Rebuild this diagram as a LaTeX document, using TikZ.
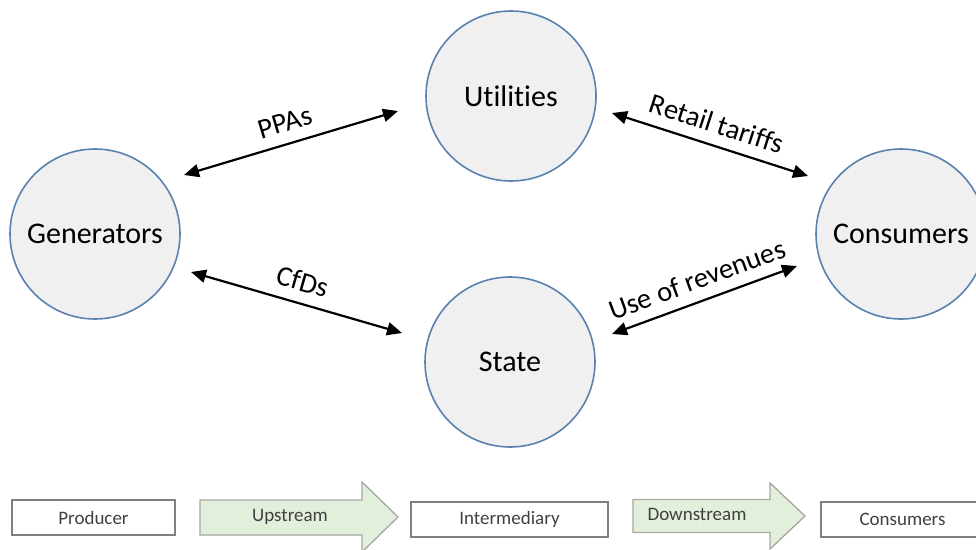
\documentclass[tikz,border=0pt]{standalone}
\usepackage{fontspec}
\setmainfont{Carlito}[Ligatures={NoCommon}]
\usetikzlibrary{arrows.meta}
\definecolor{ringblue}{HTML}{5A82AE}
\definecolor{ringfill}{HTML}{F0F0F0}
\definecolor{flowgreen}{HTML}{E2EFDA}
\definecolor{boxgray}{HTML}{7F7F7F}
\begin{document}
\begin{tikzpicture}[x=1pt, y=-1pt,
    actor/.style={circle, draw=ringblue, line width=1.6pt, fill=ringfill,
        minimum size=170pt, inner sep=0pt, font=\fontsize{30}{32}\selectfont},
    deal/.style={line width=2.2pt, {Triangle[length=15pt,width=13pt]}-{Triangle[length=15pt,width=13pt]}},
    deallabel/.style={midway, above=11pt, sloped, inner sep=0pt, font=\fontsize{28.5}{30}\selectfont},
    stagebox/.style={draw=boxgray, line width=1.3pt, minimum height=35pt,
        text=black!75, font=\fontsize{19}{21}\selectfont},
    flow/.style={draw=black!35, line width=1.3pt, fill=flowgreen}]
    \clip (0,0) rectangle (976,549);
    \useasboundingbox (0,0) rectangle (976,549);

    \node[actor] (gen) at (95,234) {Generators};
    \node[actor] (util) at (511,96) {Utilities};
    \node[actor] (state) at (510,362) {State};
    \node[actor] (cons) at (901,234) {Consumers};

    \coordinate (ppa-a) at (184,175);
    \coordinate (ppa-b) at (398,111);
    \coordinate (tar-a) at (612,113);
    \coordinate (tar-b) at (808,176);
    \coordinate (cfd-a) at (191,272);
    \coordinate (cfd-b) at (402,333);
    \coordinate (rev-a) at (612,334);
    \coordinate (rev-b) at (797,266);

    \draw[deal] (ppa-a) -- node[deallabel] {PPAs} (ppa-b);
    \draw[deal] (tar-a) -- node[deallabel] {Retail tariffs} (tar-b);
    \draw[deal] (cfd-a) -- node[deallabel] {CfDs} (cfd-b);
    \draw[deal] (rev-a) -- node[deallabel] {Use of revenues} (rev-b);

    % value chain
    \node[stagebox, minimum width=163pt] (producer) at (93.5,517.5) {Producer};
    \node[stagebox, minimum width=197pt] (inter) at (509.5,519.5) {Intermediary};
    \node[stagebox, minimum width=163pt] (endusers) at (902.5,519.5) {Consumers};

    \draw[flow] (200,500) -- (362,500) -- (362,482) -- (398,517) -- (362,552)
        -- (362,535) -- (200,535) -- cycle;
    \draw[flow] (633,499.5) -- (770,499.5) -- (770,483) -- (805,516) -- (770,549)
        -- (770,532.5) -- (633,532.5) -- cycle;
    \node[text=black!75, font=\fontsize{19}{21}\selectfont] (up) at (290,517) {Upstream};
    \node[text=black!75, font=\fontsize{19}{21}\selectfont] (down) at (697,514.5) {Downstream};
\end{tikzpicture}
\end{document}
